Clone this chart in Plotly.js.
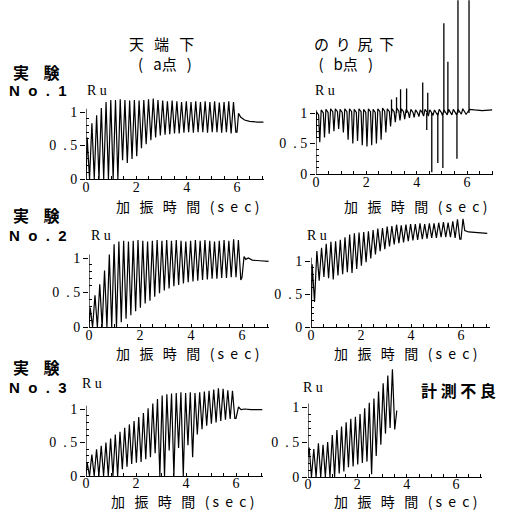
<!DOCTYPE html>
<html><head><meta charset="utf-8">
<script src="https://cdn.plot.ly/plotly-3.0.1.min.js"></script>
<style>html,body{margin:0;padding:0;background:#fff}#c{width:508px;height:515px}</style>
</head><body><div id="c"></div>
<script>
// ---- data (Ru, read per loading cycle) ----
const cycleSec = 0.1875;
const a1Peak = [0.62,0.83,0.95,1.06,1.15,1.18,1.18,1.19,1.18,1.17,1.18,1.17,1.18,1.19,1.20,1.18,1.17,1.16,1.17,1.16,1.15,1.16,1.15,1.16,1.15,1.16,1.15,1.16,1.14,1.15,1.16,1.15];
const a1Trough = [0,0,0,0,0,0,0,0.28,0.24,0.30,0.34,0.46,0.52,0.58,0.62,0.65,0.66,0.67,0.68,0.68,0.69,0.70,0.69,0.70,0.70,0.69,0.70,0.70,0.69,0.70,0.68,0.70];
const a1TailT = [6.0,6.06,6.15,6.3,6.5,6.8,7.05];
const a1TailV = [0.70,0.98,0.92,0.88,0.86,0.85,0.85];

const b1Peak = [1.02,1.05,1.06,1.07,1.07,1.06,1.07,1.07,1.06,1.07,1.06,1.07,1.06,1.07,1.08,1.07,1.07,1.08,1.07,1.06,1.06,1.05,1.05,1.06,1.05,1.05,1.06,1.05,1.06,1.06,1.06,1.07];
const b1Trough = [0.52,0.60,0.66,0.70,0.74,0.68,0.56,0.50,0.54,0.47,0.45,0.47,0.50,0.56,0.68,0.78,0.85,0.88,0.90,0.92,0.93,0.94,0.95,0.95,0.96,0.96,0.96,0.97,0.97,0.97,0.98,0.98];
const b1TailT = [6.0,6.1,6.3,6.6,7.0];
const b1TailV = [1.0,1.06,1.05,1.04,1.05];
const b1SpikeT = [3.0,3.2,3.36,3.6,4.24,4.4,4.44,4.6,4.84,5.04,5.08,5.24,5.6,5.64,6.08];
const b1SpikeV = [1.22,1.26,1.39,1.4,1.5,0.72,1.33,0.03,0.18,0.1,2.47,1.84,0.25,3.0,3.0];

const a2Peak = [0.28,0.46,0.62,0.82,1.05,1.20,1.24,1.25,1.24,1.25,1.26,1.25,1.24,1.25,1.26,1.25,1.26,1.25,1.26,1.25,1.24,1.25,1.26,1.25,1.26,1.25,1.24,1.25,1.26,1.25,1.27,1.26];
const a2Trough = [0,0,0,0,0,0,0.07,0.12,0.17,0.23,0.28,0.34,0.38,0.44,0.49,0.53,0.56,0.59,0.61,0.63,0.65,0.66,0.67,0.68,0.69,0.70,0.70,0.71,0.71,0.72,0.72,0.68];
const a2TailT = [6.0,6.08,6.15,6.25,6.4,6.7,7.05];
const a2TailV = [0.72,1.02,0.98,1.0,0.97,0.96,0.95];

const b2Peak = [0.95,1.15,1.20,1.26,1.29,1.30,1.32,1.36,1.40,1.42,1.43,1.44,1.45,1.47,1.49,1.50,1.52,1.53,1.55,1.54,1.55,1.56,1.56,1.57,1.56,1.57,1.57,1.58,1.59,1.58,1.60,1.63];
const b2Trough = [0.38,0.70,0.76,0.74,0.72,0.78,0.80,0.83,0.82,0.88,0.93,0.98,1.04,1.10,1.15,1.18,1.22,1.25,1.27,1.28,1.30,1.31,1.32,1.33,1.34,1.35,1.35,1.36,1.36,1.36,1.35,1.33];
const b2TailT = [6.0,6.08,6.15,6.3,6.6,7.05];
const b2TailV = [1.33,1.64,1.46,1.44,1.43,1.42];

const a3Peak = [0.20,0.32,0.40,0.45,0.50,0.56,0.62,0.66,0.72,0.77,0.82,0.88,0.94,1.01,1.08,1.15,1.20,1.22,1.23,1.24,1.25,1.24,1.25,1.24,1.25,1.26,1.27,1.29,1.31,1.30,1.28,1.27];
const a3Trough = [0,0,0,0,0,0,0,0.10,0.14,0.18,0.20,0.21,0.25,0.28,0.34,0,0,0.38,0,0.42,0,0.46,0.28,0.62,0.70,0.75,0.78,0.80,0.82,0.84,0.85,0.86];
const a3TailT = [6.0,6.1,6.2,6.35,6.6,7.05];
const a3TailV = [0.86,1.03,0.99,1.0,0.99,0.99];

const b3Peak = [0.42,0.40,0.48,0.46,0.50,0.60,0.67,0.72,0.78,0.83,0.86,0.90,0.98,1.06,1.12,1.22,1.34,1.45,1.54];
const b3Trough = [0,0,0,0,0,0,0.05,0.08,0.14,0.15,0.18,0.20,0.22,0.04,0.30,0.46,0.62,0.70,0.68];
const b3TailT = [3.6];
const b3TailV = [0.95];

const xTickVals = [0,2,4,6];
const xTickText = ['0','2','4','6'];
const yTickVals = [0,0.5,1];
const yTickText = ['0','0\u00a0\u00a0.\u00a05','1'];
const yMinorVals = [0.1,0.2,0.3,0.4,0.6,0.7,0.8,0.9];

// ---- build ----
// triangle: peak at 1/4, trough at 3/4 of cycle; dip: hold near peak, brief drop to trough
function series(start, peaks, troughs, tailT, tailV, dip){
  const x=[0], y=[start];
  for(let i=0;i<peaks.length;i++){
    const t=i*cycleSec;
    if(dip){
      x.push(t+cycleSec*0.1); y.push(peaks[i]);
      x.push(t+cycleSec*0.55); y.push(peaks[i]-0.05);
      x.push(t+cycleSec*0.8); y.push(troughs[i]);
    } else {
      x.push(t+cycleSec*0.25); y.push(peaks[i]);
      x.push(t+cycleSec*0.75); y.push(troughs[i]);
    }
  }
  for(let i=0;i<tailT.length;i++){ x.push(tailT[i]); y.push(tailV[i]); }
  return {x,y};
}
const W=508,H=515;
const panels = [
  {s:series(0,a1Peak,a1Trough,a1TailT,a1TailV), x0:86, xs:25.17, xmax:7.08, y0:179, ys:67, ymax:1.35, so:-5},
  {s:series(0.6,b1Peak,b1Trough,b1TailT,b1TailV,true), x0:316, xs:25.17, xmax:7.05, y0:174, ys:61, ymax:2.85, so:-5},
  {s:series(0,a2Peak,a2Trough,a2TailT,a2TailV), x0:89, xs:25.5, xmax:7.05, y0:327, ys:69, ymax:1.35, so:-5},
  {s:series(0,b2Peak,b2Trough,b2TailT,b2TailV), x0:311, xs:25, xmax:7.15, y0:327, ys:66, ymax:1.7, so:-5},
  {s:series(0,a3Peak,a3Trough,a3TailT,a3TailV), x0:86, xs:25, xmax:7.08, y0:476, ys:67, ymax:1.38, so:-6},
  {s:series(0.3,b3Peak,b3Trough,b3TailT,b3TailV), x0:308, xs:24.67, xmax:7.05, y0:477, ys:70, ymax:1.6, so:-6}
];
const data=[], layout={width:W,height:H,margin:{l:0,r:0,t:0,b:0},showlegend:false,
  paper_bgcolor:'#fff',plot_bgcolor:'rgba(0,0,0,0)',shapes:[],annotations:[]};
const tickFont={family:'Liberation Serif, serif',size:14,color:'#000'};
panels.forEach((p,k)=>{
  const n=k+1, xa='xaxis'+(n>1?n:''), ya='yaxis'+(n>1?n:'');
  const xr='x'+(n>1?n:''), yr='y'+(n>1?n:'');
  data.push({type:'scatter',mode:'lines',x:p.s.x,y:p.s.y,xaxis:xr,yaxis:yr,
    line:{color:'#000',width:1.2},hoverinfo:'skip'});
  layout[xa]={domain:[p.x0/W,(p.x0+p.xmax*p.xs)/W],range:[0,p.xmax],anchor:yr,
    showline:true,linecolor:'#000',linewidth:1.2,showgrid:false,zeroline:false,
    tickmode:'array',tickvals:xTickVals,ticktext:xTickText,ticks:'inside',ticklen:3,tickcolor:'#000',
    ticklabelstandoff:p.so,
    tickfont:tickFont,minor:{dtick:0.5,ticks:'inside',ticklen:3,tickcolor:'#000',showgrid:false}};
  layout[ya]={domain:[(H-p.y0)/H,(H-(p.y0-p.ymax*p.ys))/H],range:[0,p.ymax],anchor:xr,
    showline:false,showgrid:false,zeroline:false,
    tickmode:'array',tickvals:yTickVals,ticktext:yTickText,ticks:'outside',ticklen:5,tickcolor:'#000',
    tickfont:tickFont,minor:{tickmode:'array',tickvals:yMinorVals,ticks:'inside',ticklen:3,tickcolor:'#000',showgrid:false}};
  layout.shapes.push({type:'line',xref:xr,yref:yr,x0:0,x1:0,y0:0,y1:1.05,line:{color:'#000',width:1.2}});
});
// spikes for b1
const sx=[], sy=[];
for(let i=0;i<b1SpikeT.length;i++){ sx.push(b1SpikeT[i],b1SpikeT[i],null); sy.push(1.0,b1SpikeV[i],null); }
data.push({type:'scatter',mode:'lines',x:sx,y:sy,xaxis:'x2',yaxis:'y2',line:{color:'#000',width:1.3},hoverinfo:'skip'});

const NB='\u00a0';
const JP='Noto Sans CJK JP';
function ann(text,px,py,size,family,bold){
  layout.annotations.push({xref:'paper',yref:'paper',x:px/W,y:1-py/H,xanchor:'center',yanchor:'middle',
    showarrow:false,align:'center',text:bold?'<b>'+text+'</b>':text,font:{family:family,size:size,color:'#000'}});
}
const N3=NB+NB+NB, N2=NB+NB;
ann('天'+N3+'端'+N3+'下<br>'+N2+'('+N3+'a点'+N3+')',161,54,15,JP);
ann('の'+N2+'り'+N2+'尻'+N2+'下<br>('+N3+'b点'+N3+')'+NB+NB+NB+NB+NB,354,54,15,JP);
const rowY=[[72,90],[215,235],[367,387]];
rowY.forEach((r,i)=>{
  ann('実'+NB+NB+NB+NB+'験',36,r[0],16,JP,true);
  ann('N'+NB+NB+'o'+NB+NB+'.'+NB+NB+(i+1),38,r[1],15,'Liberation Sans, sans-serif',true);
});
const ruPos=[[97,90],[325,90],[101,235],[317,235],[92,383],[313,387]];
ruPos.forEach(p=>ann('R'+NB+'u',p[0],p[1],14,'Liberation Serif, serif'));
const xt='加'+N3+'振'+N3+'時'+N3+'間'+N3+'('+NB+'s'+N2+'e'+N2+'c'+NB+')';
[[187,206],[415,206],[187,353],[405,353],[182,501],[405,501]].forEach(p=>ann(xt,p[0],p[1],14,JP));
ann('計'+NB+'測'+NB+'不'+NB+'良',458,390,16,JP,true);

Plotly.newPlot('c',data,layout,{staticPlot:true,displayModeBar:false});
</script></body></html>
